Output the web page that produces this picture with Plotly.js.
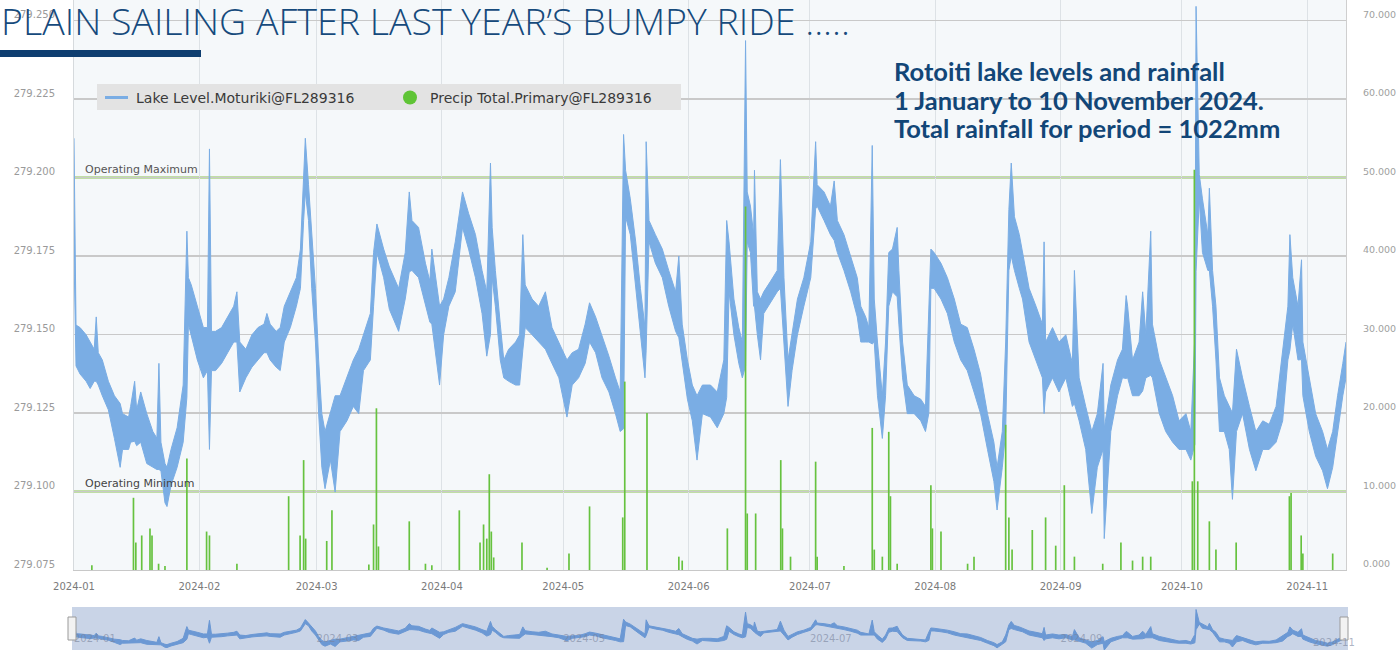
<!DOCTYPE html>
<html><head><meta charset="utf-8">
<script src="https://cdn.plot.ly/plotly-3.0.1.min.js"></script>
<style>html,body{margin:0;padding:0;background:#fff;overflow:hidden}#chart{width:1398px;height:650px}</style>
</head><body><div id="chart"></div>
<script>
// ---- Lake level (Moturiki), upper and lower edge of the plotted band, metres ----
const lakeTimes = [
'2024-01-01 00:00','2024-01-01 12:00','2024-01-02 12:00','2024-01-04 00:00','2024-01-05 00:00','2024-01-06 00:00','2024-01-06 12:00','2024-01-07 00:00','2024-01-08 00:00','2024-01-09 12:00',
'2024-01-11 00:00','2024-01-12 10:00','2024-01-13 00:00','2024-01-14 12:00','2024-01-15 00:00','2024-01-16 00:00','2024-01-16 12:00','2024-01-17 12:00','2024-01-19 00:00','2024-01-20 12:00',
'2024-01-21 12:00','2024-01-22 00:00','2024-01-22 12:00','2024-01-23 12:00','2024-01-24 00:00','2024-01-25 00:00','2024-01-26 12:00','2024-01-28 00:00','2024-01-28 22:00','2024-01-29 07:00',
'2024-01-30 00:00','2024-01-31 12:00','2024-02-02 00:00','2024-02-03 00:00','2024-02-03 12:00','2024-02-04 00:00','2024-02-05 00:00','2024-02-06 12:00','2024-02-08 00:00','2024-02-09 12:00',
'2024-02-10 07:00','2024-02-11 00:00','2024-02-12 12:00','2024-02-14 00:00','2024-02-15 12:00','2024-02-17 00:00','2024-02-17 17:00','2024-02-18 12:00','2024-02-20 00:00','2024-02-21 00:00',
'2024-02-22 00:00','2024-02-23 12:00','2024-02-25 00:00','2024-02-26 00:00','2024-02-26 19:00','2024-02-27 05:00','2024-02-28 00:00','2024-02-28 19:00','2024-02-29 17:00','2024-03-01 12:00',
'2024-03-02 07:00','2024-03-03 02:00','2024-03-04 10:00','2024-03-05 14:00','2024-03-06 19:00','2024-03-08 12:00','2024-03-10 02:00','2024-03-11 10:00','2024-03-12 14:00','2024-03-14 07:00',
'2024-03-15 02:00','2024-03-15 22:00','2024-03-17 14:00','2024-03-19 00:00','2024-03-21 07:00','2024-03-22 22:00','2024-03-23 22:00','2024-03-24 14:00','2024-03-26 05:00','2024-03-27 22:00',
'2024-03-29 00:00','2024-03-29 12:00','2024-03-31 10:00','2024-04-01 10:00','2024-04-02 17:00','2024-04-04 07:00','2024-04-06 02:00','2024-04-07 14:00','2024-04-09 07:00','2024-04-10 22:00',
'2024-04-12 02:00','2024-04-13 00:00','2024-04-13 10:00','2024-04-14 05:00','2024-04-15 10:00','2024-04-16 07:00','2024-04-17 12:00','2024-04-19 05:00','2024-04-20 05:00','2024-04-21 00:00',
'2024-04-21 14:00','2024-04-23 07:00','2024-04-24 22:00','2024-04-26 14:00','2024-04-28 05:00','2024-04-29 22:00','2024-05-01 22:00','2024-05-03 05:00','2024-05-04 19:00','2024-05-06 10:00',
'2024-05-07 12:00','2024-05-09 00:00','2024-05-10 14:00','2024-05-12 07:00','2024-05-13 22:00','2024-05-15 02:00','2024-05-15 22:00','2024-05-16 10:00','2024-05-17 14:00','2024-05-18 22:00',
'2024-05-20 02:00','2024-05-21 05:00','2024-05-21 12:00','2024-05-22 05:00','2024-05-23 19:00','2024-05-25 12:00','2024-05-27 02:00','2024-05-28 19:00','2024-05-29 14:00','2024-05-30 10:00',
'2024-05-31 17:00','2024-06-01 22:00','2024-06-03 02:00','2024-06-04 10:00','2024-06-06 10:00','2024-06-08 02:00','2024-06-09 17:00','2024-06-10 10:00','2024-06-11 00:00','2024-06-12 05:00',
'2024-06-13 10:00','2024-06-14 07:00','2024-06-15 02:00','2024-06-15 12:00','2024-06-16 07:00','2024-06-17 02:00','2024-06-17 07:00','2024-06-18 00:00','2024-06-18 19:00','2024-06-19 14:00',
'2024-06-21 07:00','2024-06-22 22:00','2024-06-23 17:00','2024-06-24 14:00','2024-06-25 14:00','2024-06-26 14:00','2024-06-27 22:00','2024-06-29 12:00','2024-07-01 05:00','2024-07-02 10:00',
'2024-07-02 19:00','2024-07-04 12:00','2024-07-06 02:00','2024-07-07 00:00','2024-07-07 19:00','2024-07-09 10:00','2024-07-11 02:00','2024-07-12 17:00','2024-07-13 14:00','2024-07-14 19:00',
'2024-07-15 14:00','2024-07-16 10:00','2024-07-16 22:00','2024-07-17 17:00','2024-07-18 22:00','2024-07-19 17:00','2024-07-20 12:00','2024-07-21 10:00','2024-07-22 14:00','2024-07-23 00:00',
'2024-07-23 22:00','2024-07-25 02:00','2024-07-26 19:00','2024-07-28 10:00','2024-07-29 14:00','2024-07-30 10:00','2024-07-30 22:00','2024-07-31 17:00','2024-08-02 10:00','2024-08-04 00:00',
'2024-08-05 17:00','2024-08-07 07:00','2024-08-08 22:00','2024-08-10 14:00','2024-08-12 05:00','2024-08-13 22:00','2024-08-15 12:00','2024-08-16 07:00','2024-08-17 14:00','2024-08-18 10:00',
'2024-08-19 05:00','2024-08-19 19:00','2024-08-20 14:00','2024-08-21 19:00','2024-08-22 14:00','2024-08-24 05:00','2024-08-25 22:00','2024-08-27 12:00','2024-08-27 22:00','2024-08-28 07:00',
'2024-08-30 00:00','2024-08-31 14:00','2024-09-02 07:00','2024-09-03 22:00','2024-09-04 10:00','2024-09-05 14:00','2024-09-07 05:00','2024-09-08 17:00','2024-09-10 02:00','2024-09-11 12:00',
'2024-09-11 19:00','2024-09-13 10:00','2024-09-15 02:00','2024-09-16 07:00','2024-09-17 05:00','2024-09-17 14:00','2024-09-18 19:00','2024-09-20 10:00','2024-09-21 07:00','2024-09-22 02:00',
'2024-09-23 07:00','2024-09-23 17:00','2024-09-25 10:00','2024-09-27 00:00','2024-09-28 17:00','2024-09-30 07:00','2024-10-02 00:00','2024-10-03 05:00','2024-10-04 05:00','2024-10-04 12:00',
'2024-10-05 07:00','2024-10-06 02:00','2024-10-07 10:00','2024-10-07 19:00','2024-10-08 14:00','2024-10-09 10:00','2024-10-10 07:00','2024-10-11 12:00','2024-10-12 17:00','2024-10-13 12:00',
'2024-10-14 12:00','2024-10-16 00:00','2024-10-17 17:00','2024-10-19 07:00','2024-10-21 00:00','2024-10-22 14:00','2024-10-24 07:00','2024-10-25 22:00','2024-10-27 05:00','2024-10-27 17:00',
'2024-10-28 10:00','2024-10-29 17:00','2024-10-30 14:00','2024-10-30 22:00','2024-11-01 12:00','2024-11-03 02:00','2024-11-04 19:00','2024-11-06 00:00','2024-11-07 07:00','2024-11-08 12:00',
'2024-11-09 19:00','2024-11-10 14:00'
];
const lakeHigh = [
279.2125,279.1530,279.1522,279.1499,279.1476,279.1453,279.1556,279.1442,279.1419,279.1351,
279.1305,279.1280,279.1248,279.1237,279.1271,279.1351,279.1260,279.1317,279.1248,279.1191,
279.1170,279.1408,279.1157,279.1089,279.1077,279.1134,279.1203,279.1339,279.1829,279.1681,
279.1658,279.1590,279.1522,279.1522,279.2091,279.1510,279.1510,279.1522,279.1556,279.1590,
279.1636,279.1476,279.1453,279.1499,279.1522,279.1533,279.1567,279.1533,279.1510,279.1522,
279.1590,279.1636,279.1681,279.1772,279.2023,279.2125,279.1977,279.1818,279.1647,279.1419,
279.1248,279.1191,279.1248,279.1305,279.1305,279.1362,279.1419,279.1453,279.1499,279.1567,
279.1761,279.1852,279.1772,279.1715,279.1647,279.1761,279.1954,279.1863,279.1841,279.1727,
279.1670,279.1772,279.1590,279.1613,279.1681,279.1795,279.1954,279.1886,279.1818,279.1704,
279.1636,279.2046,279.1841,279.1704,279.1533,279.1419,279.1453,279.1476,279.1499,279.1818,
279.1658,279.1613,279.1590,279.1636,279.1522,279.1476,279.1419,279.1442,279.1453,279.1533,
279.1601,279.1556,279.1499,279.1431,279.1362,279.1317,279.2137,279.2023,279.1932,279.1795,
279.1647,279.1522,279.2114,279.1863,279.1818,279.1772,279.1704,279.1636,279.1750,279.1533,
279.1419,279.1339,279.1305,279.1339,279.1339,279.1317,279.1419,279.1863,279.1795,279.1613,
279.1522,279.1476,279.2436,279.1954,279.1909,279.1818,279.2023,279.1636,279.1613,279.1636,
279.1670,279.1704,279.2057,279.1681,279.1419,279.1499,279.1613,279.1681,279.1795,279.2114,
279.1977,279.1954,279.1909,279.1989,279.1863,279.1818,279.1749,279.1681,279.1590,279.1556,
279.1522,279.2102,279.1613,279.1476,279.1305,279.1476,279.1761,279.1772,279.1841,279.1704,
279.1476,279.1339,279.1305,279.1294,279.1271,279.1600,279.1772,279.1761,279.1727,279.1681,
279.1613,279.1533,279.1522,279.1453,279.1374,279.1248,279.1157,279.1077,279.1191,279.1476,
279.1898,279.2046,279.1875,279.1818,279.1761,279.1647,279.1590,279.1533,279.1795,279.1476,
279.1522,279.1476,279.1499,279.1408,279.1704,279.1362,279.1271,279.1191,279.1248,279.1408,
279.1200,279.1339,279.1419,279.1453,279.1624,279.1590,279.1419,279.1476,279.1636,279.1499,
279.1829,279.1533,279.1419,279.1362,279.1305,279.1225,279.1248,279.1191,279.1500,279.2545,
279.2010,279.1932,279.1818,279.1966,279.1704,279.1590,279.1362,279.1305,279.1271,279.1250,
279.1453,279.1362,279.1271,279.1191,279.1225,279.1214,279.1271,279.1442,279.1590,279.1818,
279.1681,279.1590,279.1738,279.1476,279.1362,279.1248,279.1191,279.1134,279.1191,279.1305,
279.1408,279.1476
];
const lakeLow = [
279.1750,279.1400,279.1374,279.1351,279.1328,279.1351,279.1351,279.1339,279.1305,279.1260,
279.1169,279.1077,279.1134,279.1134,279.1157,279.1160,279.1146,279.1157,279.1089,279.1077,
279.1070,279.1070,279.1066,279.0964,279.0952,279.1020,279.1077,279.1157,279.1300,279.1533,
279.1499,279.1419,279.1362,279.1385,279.1134,279.1385,279.1385,279.1408,279.1442,279.1476,
279.1476,279.1317,279.1362,279.1396,279.1419,279.1442,279.1442,279.1419,279.1396,279.1385,
279.1476,279.1522,279.1590,279.1647,279.1863,279.1954,279.1863,279.1647,279.1476,279.1248,
279.1077,279.1009,279.1100,279.0998,279.1191,279.1225,279.1271,279.1248,279.1385,279.1419,
279.1590,279.1761,279.1681,279.1580,279.1510,279.1613,279.1700,279.1704,279.1681,279.1590,
279.1540,279.1533,279.1339,279.1499,279.1590,279.1636,279.1841,279.1772,279.1681,279.1567,
279.1431,279.1500,279.1681,279.1590,279.1419,279.1362,279.1351,279.1339,279.1339,279.1450,
279.1522,279.1499,279.1476,279.1453,279.1408,279.1362,279.1237,279.1339,279.1362,279.1408,
279.1476,279.1442,279.1362,279.1317,279.1248,279.1191,279.1200,279.1875,279.1818,279.1647,
279.1499,279.1362,279.1450,279.1795,279.1727,279.1681,279.1590,279.1510,279.1490,279.1408,
279.1294,279.1225,279.1100,279.1248,279.1237,279.1203,279.1248,279.1300,279.1636,279.1499,
279.1408,279.1362,279.1400,279.1795,279.1761,279.1590,279.1590,279.1499,279.1419,279.1567,
279.1601,279.1636,279.1647,279.1476,279.1271,279.1385,279.1499,279.1590,279.1681,279.1900,
279.1909,279.1863,279.1818,279.1800,279.1761,279.1704,279.1636,279.1556,279.1476,279.1476,
279.1476,279.1470,279.1476,279.1305,279.1169,279.1305,279.1590,279.1636,279.1620,279.1533,
279.1362,279.1248,279.1248,279.1225,279.1191,279.1250,279.1647,279.1647,279.1613,279.1567,
279.1476,279.1419,279.1385,279.1317,279.1248,279.1134,279.1032,279.0941,279.1077,279.1191,
279.1704,279.1750,279.1704,279.1647,279.1613,279.1476,279.1419,279.1362,279.1248,279.1317,
279.1362,279.1317,279.1362,279.1271,279.1280,279.1225,279.1134,279.0930,279.1077,279.1134,
279.0850,279.1191,279.1305,279.1362,279.1360,279.1362,279.1305,279.1305,279.1320,279.1362,
279.1370,279.1362,279.1248,279.1191,279.1157,279.1134,279.1134,279.1100,279.1150,279.1700,
279.1932,279.1761,279.1704,279.1704,279.1590,279.1419,279.1191,279.1191,279.1134,279.0975,
279.1191,279.1248,279.1134,279.1066,279.1134,279.1134,279.1157,279.1225,279.1419,279.1450,
279.1533,279.1419,279.1420,279.1305,279.1191,279.1112,279.1066,279.1009,279.1077,279.1191,
279.1305,279.1362
];
// ---- Precipitation (Primary), mm ----
const rainTimes = [
'2024-01-05 10:00','2024-01-15 17:00','2024-01-16 07:00','2024-01-17 18:00','2024-01-19 19:00','2024-01-20 07:00','2024-01-21 22:00','2024-01-23 12:00','2024-01-28 22:00','2024-02-02 19:00',
'2024-02-03 12:00','2024-02-10 07:00','2024-02-23 02:00','2024-02-25 22:00','2024-02-26 19:00','2024-02-27 07:00','2024-03-03 12:00','2024-03-04 19:00','2024-03-13 22:00','2024-03-15 02:00',
'2024-03-15 19:00','2024-03-16 07:00','2024-03-23 22:00','2024-03-27 22:00','2024-03-29 12:00','2024-04-05 07:00','2024-04-10 10:00','2024-04-11 07:00','2024-04-12 02:00','2024-04-12 17:00',
'2024-04-13 05:00','2024-04-13 19:00','2024-04-20 19:00','2024-04-27 00:00','2024-05-02 10:00','2024-05-07 12:00','2024-05-15 17:00','2024-05-16 05:00','2024-05-21 17:00','2024-05-29 14:00',
'2024-05-30 10:00','2024-06-10 14:00','2024-06-15 02:00','2024-06-15 12:00','2024-06-17 14:00','2024-06-23 19:00','2024-06-24 05:00','2024-06-26 05:00','2024-07-02 10:00','2024-07-02 19:00',
'2024-07-09 10:00','2024-07-16 10:00','2024-07-16 22:00','2024-07-18 22:00','2024-07-20 12:00','2024-07-20 22:00','2024-07-22 14:00','2024-07-30 22:00','2024-07-31 07:00','2024-08-02 10:00',
'2024-08-09 00:00','2024-08-10 14:00','2024-08-18 10:00','2024-08-19 05:00','2024-08-20 00:00','2024-08-25 00:00','2024-08-28 07:00','2024-08-30 19:00','2024-09-01 22:00','2024-09-04 10:00',
'2024-09-11 10:00','2024-09-15 22:00','2024-09-18 19:00','2024-09-21 07:00','2024-09-23 07:00','2024-10-03 14:00','2024-10-04 02:00','2024-10-04 22:00','2024-10-07 19:00','2024-10-09 10:00',
'2024-10-14 10:00','2024-10-27 14:00','2024-10-28 00:00','2024-10-30 12:00','2024-10-30 22:00','2024-11-07 07:00'
];
const rainMm = [
0.6,9.2,3.5,4.4,5.3,4.4,0.8,0.5,14.2,4.9,
4.4,0.8,9.4,4.4,14.0,4.0,3.7,7.6,0.7,5.8,
20.6,3.0,6.2,0.8,0.6,7.6,3.5,5.8,4.0,12.2,
4.9,1.6,3.5,0.3,2.1,8.1,6.7,24.0,20.0,1.7,
1.2,5.3,46.3,7.2,7.2,14.0,5.3,1.7,13.8,1.7,
0.5,18.1,2.6,1.7,17.6,9.4,0.8,10.8,5.3,4.9,
0.8,1.7,18.5,6.7,2.6,5.1,6.7,3.1,10.8,1.7,
0.8,3.5,1.2,1.7,1.7,11.3,51.0,11.3,6.2,2.6,
3.5,9.4,9.8,4.4,2.1,2.1
];
const operatingMax = 279.200;
const operatingMin = 279.100;
const leftTicks = {start: 279.075, step: 0.025};
const rightTicks = {start: 0, step: 10};

// ---- layout helpers (pixel -> paper) ----
const W = 1398, H = 650, L = 74, R = 52;
const PW = W - L - R;
const px = x => (x - L) / PW;
const py = y => 1 - y / H;

const lakeBlue = '#7aade4';
const navBlue = '#6b98d4';
const green = '#66c23f';
const navy = '#124677';

const traces = [
  {x: lakeTimes, y: lakeLow, type: 'scatter', mode: 'lines', line: {color: lakeBlue, width: 1}, xaxis: 'x', yaxis: 'y', hoverinfo: 'skip'},
  {x: lakeTimes, y: lakeHigh, type: 'scatter', mode: 'lines', fill: 'tonexty', fillcolor: lakeBlue, line: {color: lakeBlue, width: 1}, xaxis: 'x', yaxis: 'y', hoverinfo: 'skip'},
  {x: rainTimes, y: rainMm, type: 'bar', width: 3.6e7, marker: {color: green, line: {width: 0}}, xaxis: 'x', yaxis: 'y2', hoverinfo: 'skip'},
  {x: lakeTimes, y: lakeLow, type: 'scatter', mode: 'lines', line: {color: navBlue, width: 1}, xaxis: 'x2', yaxis: 'y3', hoverinfo: 'skip'},
  {x: lakeTimes, y: lakeHigh, type: 'scatter', mode: 'lines', fill: 'tonexty', fillcolor: navBlue, line: {color: navBlue, width: 1}, xaxis: 'x2', yaxis: 'y3', hoverinfo: 'skip'}
];

const tickFont = {family: 'DejaVu Sans', size: 10, color: '#9a9a9a'};
const xRange = ['2024-01-01 00:00', '2024-11-10 14:00'];
const layout = {
  width: W, height: H,
  margin: {l: L, r: R, t: 0, b: 0, pad: 0},
  paper_bgcolor: '#ffffff', plot_bgcolor: 'rgba(0,0,0,0)',
  showlegend: false,
  xaxis: {type: 'date', range: xRange, domain: [0, 1], anchor: 'y', dtick: 'M1', tick0: '2024-01-01',
    tickformat: '%Y-%m', showgrid: true, gridcolor: '#dde2e6', gridwidth: 1, ticks: '',
    tickfont: {family: 'DejaVu Sans', size: 10, color: '#7a7a7a'}, ticklabelstandoff: 7,
    showline: true, linecolor: '#c8c8c8', linewidth: 1, zeroline: false},
  yaxis: {domain: [80 / H, 1], range: [279.075, 279.075 + 0.025 * 570 / 78.5], anchor: 'x',
    tick0: leftTicks.start, dtick: leftTicks.step, tickformat: '.3f', showgrid: true, gridcolor: '#c9c9c9', gridwidth: 1.3,
    tickfont: tickFont, ticks: '', ticklabelshift: -6, ticklabelstandoff: 16,
    showline: true, linecolor: '#d6dadd', zeroline: false},
  yaxis2: {overlaying: 'y', side: 'right', anchor: 'x', range: [0, 570 / 7.85],
    tick0: rightTicks.start, dtick: rightTicks.step, tickformat: '.3f', showgrid: false,
    tickfont: {family: 'DejaVu Sans', size: 9.5, color: '#a0a0a0'}, ticks: '', ticklabelshift: -6, ticklabelstandoff: 14,
    showline: true, linecolor: '#cfcfcf', zeroline: false},
  xaxis2: {type: 'date', range: xRange, domain: [0, 1], anchor: 'y3', dtick: 'M2', tick0: '2024-01-01',
    tickformat: '%Y-%m', showgrid: false, ticks: '', ticklabelposition: 'inside right',
    tickfont: {family: 'DejaVu Sans', size: 10, color: 'rgba(120,130,155,0.6)'}, showline: false, zeroline: false},
  yaxis3: {domain: [0, 43 / H], range: [279.085, 279.265], anchor: 'x2', visible: false, showgrid: false, zeroline: false},
  shapes: [
    // main plot background
    {type: 'rect', xref: 'paper', yref: 'paper', x0: 0, x1: 1, y0: py(570), y1: 1, fillcolor: '#f5f8fa', line: {width: 0}, layer: 'below'},
    // navigator background
    {type: 'rect', xref: 'paper', yref: 'paper', x0: px(72), x1: px(1348), y0: 0, y1: py(607), fillcolor: '#c9d4e7', line: {width: 0}, layer: 'below'},
    // operating limits
    {type: 'line', xref: 'paper', yref: 'y', x0: 0, x1: 1, y0: operatingMax, y1: operatingMax, line: {color: '#8cc451', width: 2}, layer: 'between'},
    {type: 'line', xref: 'paper', yref: 'y', x0: 0, x1: 1, y0: operatingMin, y1: operatingMin, line: {color: '#8cc451', width: 2}, layer: 'between'},
    // legend box
    {type: 'rect', xref: 'paper', yref: 'paper', x0: px(97), x1: px(681), y0: py(110), y1: py(84), fillcolor: '#e3e3e3', line: {width: 0}},
    {type: 'line', xref: 'paper', yref: 'paper', x0: px(105), x1: px(128), y0: py(97.5), y1: py(97.5), line: {color: lakeBlue, width: 3}},
    {type: 'circle', xref: 'paper', yref: 'paper', x0: px(403), x1: px(417), y0: py(104.5), y1: py(90.5), fillcolor: '#5fc436', line: {width: 0}},
    // title underline bar
    {type: 'rect', xref: 'paper', yref: 'paper', x0: px(0), x1: px(201), y0: py(57), y1: py(50), fillcolor: '#0e3e70', line: {width: 0}},
    // navigator handles
    {type: 'rect', xref: 'paper', yref: 'paper', x0: px(68), x1: px(76), y0: py(640), y1: py(617), fillcolor: '#f2f2f2', line: {color: '#9a9a9a', width: 1}},
    {type: 'rect', xref: 'paper', yref: 'paper', x0: px(1340), x1: px(1348), y0: py(640), y1: py(617), fillcolor: '#f2f2f2', line: {color: '#9a9a9a', width: 1}}
  ],
  annotations: [
    {xref: 'paper', yref: 'paper', x: px(-1), y: py(20), xanchor: 'left', yanchor: 'middle', showarrow: false,
      text: 'PLAIN SAILING AFTER LAST YEAR’S BUMPY RIDE .....', font: {family: 'Open Sans', size: 37.5, weight: 300, color: '#164a7c'}},
    {xref: 'paper', yref: 'paper', x: px(892), y: py(71), xanchor: 'left', yanchor: 'middle', showarrow: false,
      text: '<b>Rotoiti lake levels and rainfall</b>', font: {family: 'Lato', size: 25.5, color: navy}},
    {xref: 'paper', yref: 'paper', x: px(892), y: py(99.5), xanchor: 'left', yanchor: 'middle', showarrow: false,
      text: '<b>1 January to 10 November 2024.</b>', font: {family: 'Lato', size: 25.5, color: navy}},
    {xref: 'paper', yref: 'paper', x: px(892), y: py(128), xanchor: 'left', yanchor: 'middle', showarrow: false,
      text: '<b>Total rainfall for period = 1022mm</b>', font: {family: 'Lato', size: 25.5, color: navy}},
    {xref: 'paper', yref: 'paper', x: px(134), y: py(97.5), xanchor: 'left', yanchor: 'middle', showarrow: false,
      text: 'Lake Level.Moturiki@FL289316', font: {family: 'DejaVu Sans', size: 14, color: '#3a3a3a'}},
    {xref: 'paper', yref: 'paper', x: px(428), y: py(97.5), xanchor: 'left', yanchor: 'middle', showarrow: false,
      text: 'Precip Total.Primary@FL289316', font: {family: 'DejaVu Sans', size: 14, color: '#3a3a3a'}},
    {xref: 'paper', yref: 'y', x: px(83), y: operatingMax, xanchor: 'left', yanchor: 'bottom', yshift: 0, showarrow: false,
      text: 'Operating Maximum', font: {family: 'DejaVu Sans', size: 11, color: '#555555'}},
    {xref: 'paper', yref: 'y', x: px(83), y: operatingMin, xanchor: 'left', yanchor: 'bottom', yshift: 0, showarrow: false,
      text: 'Operating Minimum', font: {family: 'DejaVu Sans', size: 11, color: '#444444'}},
    {xref: 'paper', yref: 'paper', x: px(1311), y: py(642), xanchor: 'left', yanchor: 'middle', showarrow: false,
      text: '2024-11', font: {family: 'DejaVu Sans', size: 10, color: 'rgba(120,130,155,0.6)'}}
  ]
};

Plotly.newPlot('chart', traces, layout, {displayModeBar: false, staticPlot: true});
</script></body></html>
